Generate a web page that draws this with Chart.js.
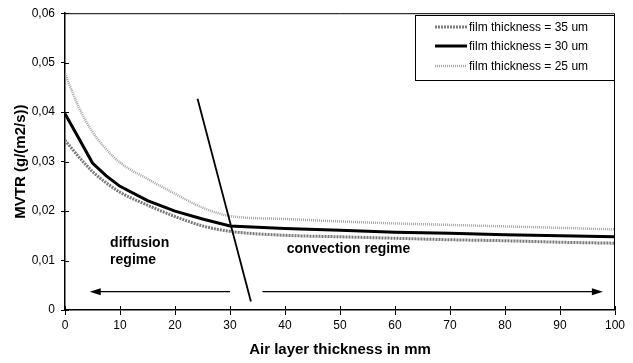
<!DOCTYPE html>
<html>
<head>
<meta charset="utf-8">
<script src="https://cdn.jsdelivr.net/npm/chart.js@4.4.1/dist/chart.umd.min.js"></script>
<style>
  body { margin: 0; background: #fff; }
  #wrap { width: 633px; height: 363px; }
</style>
</head>
<body>
<div id="wrap"><canvas id="chart" width="633" height="363"></canvas></div>
<script>
// air layer thickness (mm)
const airLayer = [0, 2.5, 5, 7.5, 10, 15, 20, 25, 30, 40, 50, 60, 70, 80, 90, 100];
// MVTR in g/(m2/s) per film thickness
const mvtr35 = [0.0343, 0.0310, 0.0280, 0.0257, 0.0238, 0.0212, 0.0189, 0.0170, 0.0159, 0.0151, 0.0148, 0.0145, 0.0142, 0.0140, 0.0137, 0.0135];
const mvtr30 = [0.0397, 0.0347, 0.0297, 0.0271, 0.0250, 0.0221, 0.0200, 0.0184, 0.0170, 0.0165, 0.0161, 0.0157, 0.0155, 0.0152, 0.0150, 0.0148];
const mvtr25 = [0.0478, 0.0410, 0.0360, 0.0325, 0.0298, 0.0265, 0.0235, 0.0207, 0.0190, 0.0184, 0.0179, 0.0175, 0.0172, 0.0169, 0.0166, 0.0163];

const seriesLabels = ['film thickness = 35 um', 'film thickness = 30 um', 'film thickness = 25 um'];

// regime boundary and arrows (data coords)
const boundaryX = [24.1, 33.8];
const boundaryY = [0.0427, 0.0017];
const diffusionArrowX = [30, 4.5];
const convectionArrowX = [35.9, 97.8];
const arrowY = 0.0037;

const FONT = "Arial, 'Liberation Sans', sans-serif";

const toPoints = (ys) => airLayer.map((x, i) => ({ x, y: ys[i] }));

// frame, inner tick marks, regime annotations and legend
const extrasPlugin = {
  id: 'extras',
  afterDraw(chart) {
    const { ctx, chartArea: a, scales: { x, y } } = chart;
    ctx.save();

    // frame
    ctx.strokeStyle = '#000';
    ctx.lineWidth = 1;
    ctx.beginPath();
    ctx.moveTo(a.left, a.top + 0.5);
    ctx.lineTo(a.right - 0.5, a.top + 0.5);
    ctx.lineTo(a.right - 0.5, a.bottom);
    ctx.stroke();

    // ticks crossing into the plot
    ctx.beginPath();
    x.ticks.forEach(t => {
      const px = Math.round(x.getPixelForValue(t.value)) + 0.5;
      ctx.moveTo(px, a.bottom);
      ctx.lineTo(px, a.bottom - 4);
    });
    y.ticks.forEach(t => {
      const py = Math.round(y.getPixelForValue(t.value)) + 0.5;
      ctx.moveTo(a.left, py);
      ctx.lineTo(a.left + 4, py);
    });
    ctx.stroke();

    // boundary line
    ctx.lineWidth = 1.8;
    ctx.beginPath();
    ctx.moveTo(x.getPixelForValue(boundaryX[0]), y.getPixelForValue(boundaryY[0]));
    ctx.lineTo(x.getPixelForValue(boundaryX[1]), y.getPixelForValue(boundaryY[1]));
    ctx.stroke();

    // arrows
    const arrow = (x0, x1) => {
      const p0 = x.getPixelForValue(x0);
      const p1 = x.getPixelForValue(x1);
      const py = y.getPixelForValue(arrowY);
      const dir = Math.sign(p1 - p0);
      ctx.lineWidth = 1.2;
      ctx.beginPath();
      ctx.moveTo(p0, py);
      ctx.lineTo(p1 - dir * 8, py);
      ctx.stroke();
      ctx.beginPath();
      ctx.moveTo(p1, py);
      ctx.lineTo(p1 - dir * 11, py - 3.5);
      ctx.lineTo(p1 - dir * 11, py + 3.5);
      ctx.closePath();
      ctx.fillStyle = '#000';
      ctx.fill();
    };
    arrow(diffusionArrowX[0], diffusionArrowX[1]);
    arrow(convectionArrowX[0], convectionArrowX[1]);

    // regime labels
    ctx.fillStyle = '#000';
    ctx.font = 'bold 14px ' + FONT;
    ctx.textBaseline = 'middle';
    ctx.textAlign = 'left';
    ctx.fillText('diffusion', x.getPixelForValue(8.2), y.getPixelForValue(0.01346));
    ctx.fillText('regime', x.getPixelForValue(8.2), y.getPixelForValue(0.0100));
    ctx.fillText('convection regime', x.getPixelForValue(40.3), y.getPixelForValue(0.0124));

    // legend box
    const lx = 415, ly = 15, lw = 199, lh = 65;
    ctx.fillStyle = '#fff';
    ctx.fillRect(lx, ly, lw, lh);
    ctx.lineWidth = 1;
    ctx.strokeStyle = '#000';
    ctx.strokeRect(lx + 0.5, ly + 0.5, lw, lh);
    const rows = [27, 46, 66];
    chart.data.datasets.forEach((ds, i) => {
      ctx.strokeStyle = ds.borderColor;
      ctx.lineWidth = ds.borderWidth;
      ctx.setLineDash(ds.borderDash || []);
      ctx.beginPath();
      ctx.moveTo(435, rows[i]);
      ctx.lineTo(467, rows[i]);
      ctx.stroke();
      ctx.setLineDash([]);
      ctx.fillStyle = '#000';
      ctx.font = '12px ' + FONT;
      ctx.fillText(ds.label, 469, rows[i] + 0.5);
    });

    ctx.restore();
  }
};

new Chart(document.getElementById('chart'), {
  type: 'line',
  data: {
    datasets: [
      {
        label: seriesLabels[0],
        data: toPoints(mvtr35),
        borderColor: '#7c7c7c',
        borderWidth: 3,
        borderDash: [2, 1],
        cubicInterpolationMode: 'monotone',
        pointRadius: 0
      },
      {
        label: seriesLabels[1],
        data: toPoints(mvtr30),
        borderColor: '#000',
        borderWidth: 3,
        tension: 0,
        pointRadius: 0
      },
      {
        label: seriesLabels[2],
        data: toPoints(mvtr25),
        borderColor: '#a6a6a6',
        borderWidth: 2.5,
        borderDash: [1, 1],
        cubicInterpolationMode: 'monotone',
        pointRadius: 0
      }
    ]
  },
  options: {
    responsive: false,
    animation: false,
    layout: { padding: { top: 10, right: 18, left: 0, bottom: 0 } },
    plugins: {
      legend: { display: false },
      tooltip: { enabled: false }
    },
    scales: {
      x: {
        type: 'linear',
        min: 0,
        max: 100,
        afterFit: (s) => { s.height = 53; },
        ticks: { stepSize: 10, color: '#000', padding: 3, maxRotation: 0, font: { family: FONT, size: 12 } },
        grid: { drawOnChartArea: false, color: '#000', tickLength: 5 },
        border: { color: '#000', width: 1.5 },
        title: {
          display: true,
          text: 'Air layer thickness in mm',
          color: '#000',
          font: { family: FONT, size: 15, weight: 'bold' },
          padding: { top: 0, bottom: 4 }
        }
      },
      y: {
        min: 0,
        max: 0.06,
        afterFit: (s) => { s.width = 65; },
        ticks: {
          stepSize: 0.01,
          color: '#000',
          padding: 6,
          font: { family: FONT, size: 12 },
          callback: (v) => v === 0 ? '0' : v.toFixed(2).replace('.', ',')
        },
        grid: { drawOnChartArea: false, color: '#000', tickLength: 4 },
        border: { color: '#000', width: 1.5 },
        title: {
          display: true,
          text: 'MVTR (g/(m2/s))',
          color: '#000',
          font: { family: FONT, size: 15, weight: 'bold' },
          padding: { top: 12, bottom: 0 }
        }
      }
    }
  },
  plugins: [extrasPlugin]
});
</script>
</body>
</html>
